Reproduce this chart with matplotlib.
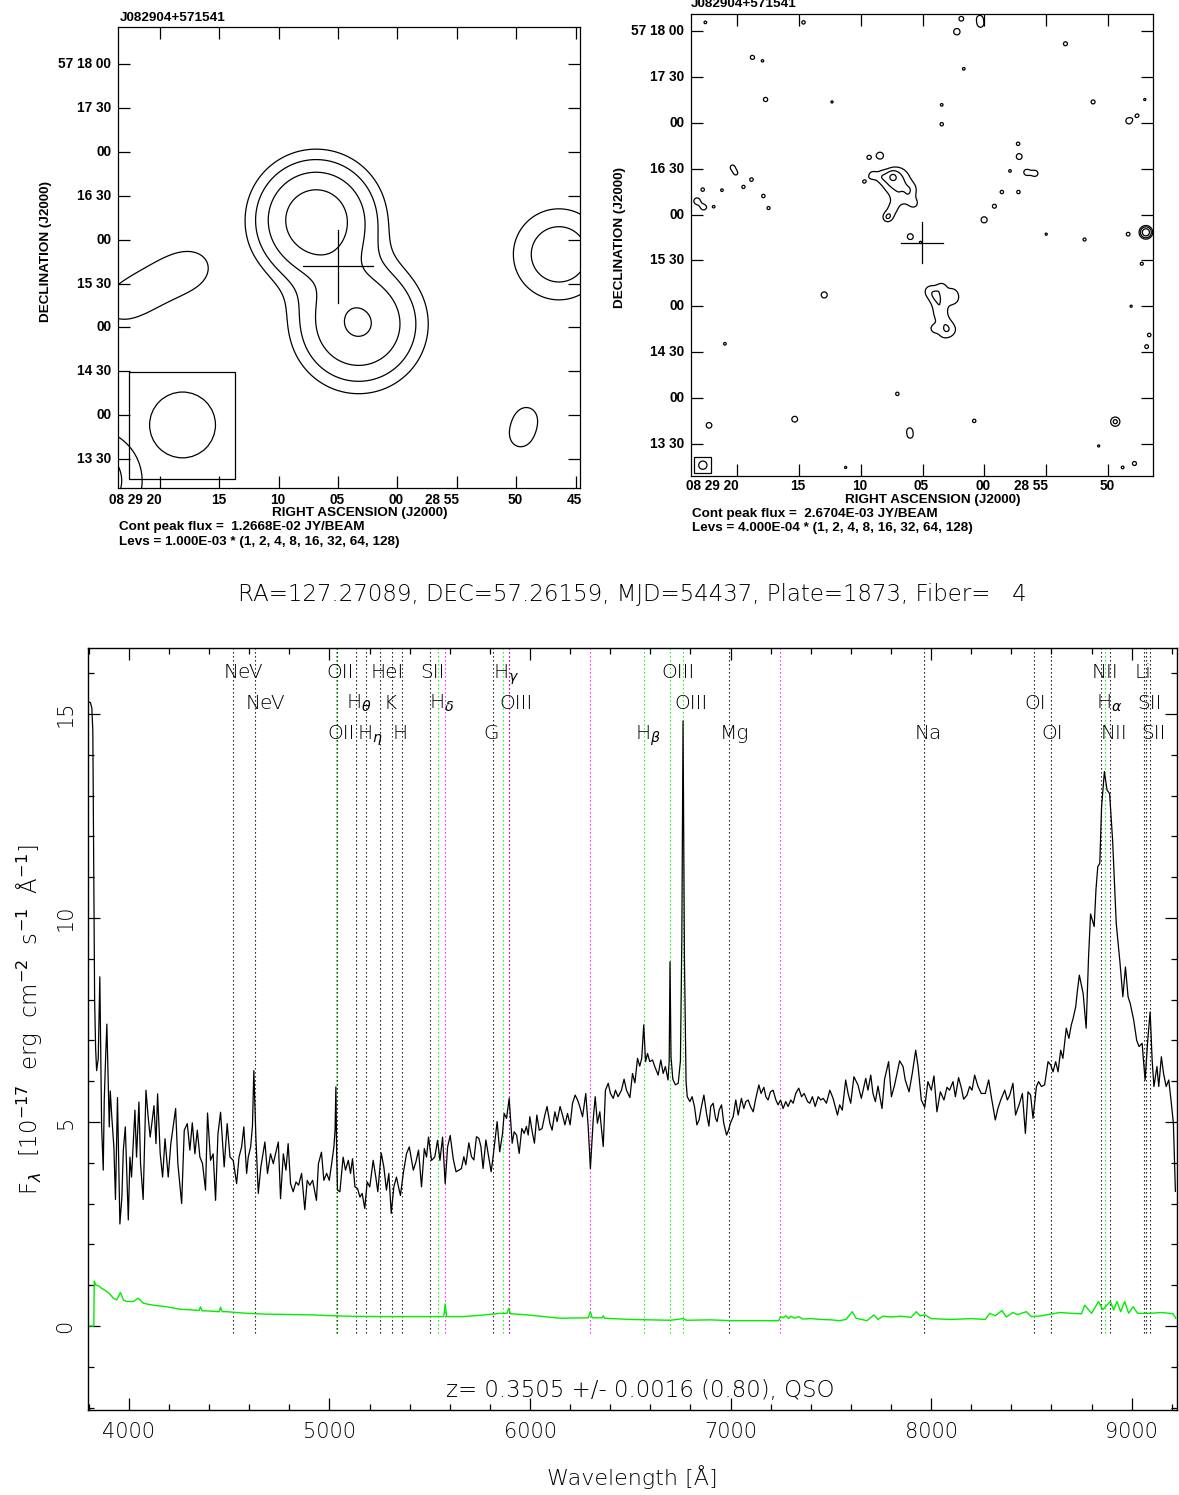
import numpy as np
import matplotlib
matplotlib.use("Agg")
import matplotlib.pyplot as plt
from matplotlib.patches import Rectangle, Ellipse

# ======================= DATA =======================
RA_DEG, DEC_DEG = 127.27089, 57.26159
TITLE_SPEC = "RA=127.27089, DEC=57.26159, MJD=54437, Plate=1873, Fiber=   4"
Z_TEXT = "z= 0.3505 +/- 0.0016 (0.80), QSO"
SRC_NAME = "J082904+571541"

# --- radio panels: RA seconds (relative to 08h29m00s) and Dec arcsec (relative to +57 15 00)
RA_TICKS_L = [20, 15, 10, 5, 0, -5, -10, -15]
RA_LABELS_L = ["08 29 20", "15", "10", "05", "00", "28 55", "50", "45"]
RA_TICKS_R = [20, 15, 10, 5, 0, -5, -10]
RA_LABELS_R = ["08 29 20", "15", "10", "05", "00", "28 55", "50"]
DEC_TICKS = [180, 150, 120, 90, 60, 30, 0, -30, -60, -90]
DEC_LABELS = ["57 18 00", "17 30", "00", "16 30", "00", "15 30", "00", "14 30", "00", "13 30"]

# left map (low resolution) source components: RA s, Dec ", peak mJy/beam, sigma "
L_RA = [6.85, 3.27, 5.10, 24.0, 22.5, 21.0, 19.5, 18.0, 16.6, -13.6, -10.91, -10.32, 25.89]
L_DEC = [73.5, 2.2, 37.0, 13.0, 19.0, 26.0, 33.0, 39.0, 42.0, 50.0, -60.3, -76.1, -104.8]
L_AMP = [12.67, 8.45, 1.0, 0.65, 0.65, 0.65, 0.65, 0.65, 0.65, 3.0, 1.05, 1.05, 3.0]
L_SIG = [21.5, 23, 20, 14, 14, 14, 14, 14, 14, 21, 10, 10, 24]
L_LEV_BASE = 1.0  # mJy
L_PEAK_TXT = "Cont peak flux =  1.2668E-02 JY/BEAM"
L_LEV_TXT = "Levs = 1.000E-03 * (1, 2, 4, 8, 16, 32, 64, 128)"

# right map (high resolution): extended components (RA s, Dec ", mJy/beam, sigma ")
R_RA = [7.40, 7.13, 8.30, 5.95, 6.05, 7.00, 7.35, 7.65,
        4.45, 3.85, 3.85, 2.65, 2.55, 3.55, 3.60, 3.20, 2.70, 3.30]
R_DEC = [84.7, 82.0, 85.0, 76.5, 70.0, 70.5, 64.5, 60.0,
         10.0, 8.5, 4.0, 8.5, 4.5, -1.0, -6.0, -11.0, -15.5, -17.5]
R_AMP = [1.0, 1.05, 0.45, 0.45, 0.45, 0.42, 0.45, 0.42,
         0.42, 0.42, 0.42, 0.42, 0.42, 0.42, 0.42, 0.42, 0.42, 0.42]
R_SIG = [2.3, 6.5, 3.0, 3.5, 3.5, 3.5, 3.0, 3.0,
         3.8, 3.8, 3.8, 3.8, 3.8, 3.8, 3.8, 3.8, 3.8, 3.8]
# right map: compact spots (beam-sized)
P_RA = [22.52, 14.60, 1.87, 0.38, 0.32, 2.23, -6.53, 18.73, 17.90, 1.67, 17.66, 12.30, 3.45,
        -8.76, -12.93, 3.45, -11.65, -12.33, -2.71, 8.43, 9.32, -2.80, 20.34, 20.05, 18.79,
        9.05, 9.71, -2.06, -3.40, -4.08, 22.73, 21.18, 19.45, 17.84, 17.42, 23.20, 22.67,
        21.83, -1.40, -2.74, 5.69, -0.80, 0.03, 5.99, 5.15, -4.98, -8.07, -11.59, -13.02,
        -12.69, 12.93, -11.83, -13.29, -13.08, 20.94, 7.03, 15.31, 22.22, 0.83, 6.04, 5.99,
        -10.55, -9.21, 11.20, -11.14, -12.10, 7.85, 4.06, 3.44]
P_DEC = [185.9, 185.9, 188.3, 188.7, 184.5, 179.8, 171.9, 163.0, 160.7, 155.5, 135.4, 133.8, 131.9,
         133.8, 135.4, 119.2, 121.4, 124.9, 106.4, 98.7, 97.5, 98.0, 91.2, 87.0, 83.0,
         85.8, 81.6, 88.6, 87.7, 87.0, 76.4, 76.0, 78.1, 72.2, 64.3, 68.9, 64.8,
         65.2, 74.8, 74.8, 67.1, 65.5, 56.6, 45.6, 41.8, 47.2, 43.7, 47.2, 48.4,
         27.8, 7.4, 0.0, -18.8, -26.5, -24.6, -57.4, -74.0, -78.0, -75.1, -81.0, -85.0,
         -75.6, -91.5, -105.6, -105.6, -103.0, 58.0, -14.6, 12.7]
P_AMP = [0.43, 0.45, 0.50, 0.52, 0.52, 0.60, 0.47, 0.47, 0.42, 0.43, 0.48, 0.42, 0.43,
         0.47, 0.42, 0.45, 0.58, 0.44, 0.45, 0.62, 0.47, 0.56, 0.45, 0.42, 0.45,
         0.55, 0.43, 0.43, 0.55, 0.55, 0.45, 0.43, 0.44, 0.45, 0.44, 0.58, 0.52,
         0.42, 0.45, 0.45, 0.42, 0.47, 0.58, 0.56, 0.42, 0.42, 0.44, 0.46, 2.67,
         0.44, 0.58, 0.42, 0.45, 0.46, 0.43, 0.45, 0.56, 0.55, 0.45, 0.44, 0.45,
         0.95, 0.42, 0.42, 0.43, 0.47, 0.55, 0.5, 0.45]
P_SIG = 2.29
R_LEV_BASE = 0.4
R_PEAK_TXT = "Cont peak flux =  2.6704E-03 JY/BEAM"
R_LEV_TXT = "Levs = 4.000E-04 * (1, 2, 4, 8, 16, 32, 64, 128)"
LEV_MULT = [1, 2, 4, 8, 16, 32, 64, 128]

# --- spectrum (observed wavelength in Angstrom, flux in 1e-17 erg/cm2/s/A)
WAVE = [3800, 3808, 3815, 3820, 3824, 3829, 3834, 3839, 3847, 3855, 3864, 3872, 3877, 3884, 3890,
        3902, 3907, 3915, 3925, 3933, 3943, 3955, 3965, 3972, 3982, 3997, 4005, 4013, 4030, 4038,
        4050, 4058, 4071, 4085, 4096, 4106, 4125, 4135, 4143, 4156, 4168, 4180, 4196, 4209, 4233,
        4244, 4263, 4276, 4291, 4304, 4316, 4329, 4341, 4354, 4367, 4382, 4392, 4407, 4420, 4432,
        4444, 4457, 4475, 4490, 4504, 4520, 4537, 4549, 4562, 4573, 4587, 4595, 4607, 4616, 4623,
        4633, 4645, 4658, 4678, 4691, 4706, 4720, 4731, 4745, 4756, 4770, 4783, 4794, 4806, 4819,
        4833, 4846, 4861, 4877, 4889, 4902, 4916, 4935, 4945, 4960, 4972, 4986, 4999, 5011, 5022,
        5028, 5032, 5036, 5040, 5052, 5068, 5080, 5094, 5105, 5115, 5127, 5140, 5152, 5163, 5176,
        5188, 5201, 5218, 5231, 5241, 5258, 5271, 5284, 5296, 5308, 5321, 5334, 5346, 5354, 5368,
        5384, 5398, 5418, 5431, 5444, 5459, 5473, 5484, 5494, 5509, 5525, 5539, 5551, 5564, 5577,
        5589, 5602, 5617, 5631, 5646, 5658, 5670, 5680, 5695, 5708, 5720, 5733, 5745, 5755, 5766,
        5780, 5791, 5806, 5816, 5836, 5849, 5863, 5871, 5883, 5896, 5911, 5921, 5933, 5946, 5959,
        5971, 5982, 5991, 5999, 6011, 6022, 6034, 6046, 6060, 6074, 6085, 6099, 6110, 6124, 6135,
        6150, 6162, 6174, 6187, 6200, 6212, 6225, 6237, 6248, 6262, 6278, 6290, 6301, 6315, 6325,
        6336, 6348, 6365, 6376, 6390, 6401, 6415, 6426, 6439, 6456, 6469, 6481, 6498, 6511, 6523,
        6536, 6547, 6557, 6567, 6576, 6586, 6597, 6611, 6622, 6639, 6652, 6664, 6675, 6688, 6694,
        6698, 6703, 6712, 6725, 6739, 6750, 6757, 6763, 6770, 6778, 6784, 6797, 6808, 6820, 6832,
        6843, 6855, 6867, 6880, 6892, 6901, 6913, 6925, 6933, 6943, 6955, 6966, 6980, 6990, 6999,
        7013, 7026, 7038, 7054, 7066, 7076, 7088, 7099, 7113, 7124, 7141, 7152, 7166, 7176, 7187,
        7199, 7212, 7226, 7237, 7249, 7262, 7275, 7287, 7300, 7312, 7325, 7340, 7354, 7367, 7384,
        7395, 7408, 7422, 7437, 7450, 7462, 7478, 7495, 7511, 7533, 7544, 7557, 7574, 7586, 7599,
        7615, 7635, 7652, 7674, 7685, 7699, 7710, 7722, 7735, 7755, 7768, 7788, 7802, 7818, 7843,
        7860, 7871, 7890, 7906, 7923, 7935, 7951, 7968, 7984, 8001, 8014, 8029, 8046, 8064, 8079,
        8092, 8109, 8121, 8137, 8151, 8162, 8179, 8192, 8204, 8217, 8234, 8250, 8270, 8287, 8300,
        8320, 8333, 8347, 8367, 8380, 8392, 8408, 8421, 8441, 8455, 8470, 8483, 8496, 8508, 8525,
        8536, 8550, 8566, 8583, 8596, 8608, 8621, 8633, 8646, 8657, 8674, 8687, 8699, 8708, 8721,
        8729, 8739, 8758, 8773, 8785, 8795, 8804, 8813, 8822, 8831, 8841, 8850, 8859, 8864, 8877,
        8890, 8905, 8923, 8942, 8956, 8969, 8982, 8993, 9010, 9025, 9037, 9052, 9067, 9080, 9092,
        9102, 9111, 9126, 9135, 9148, 9159, 9172, 9185, 9196, 9208, 9218]
FLUX = [15.30, 15.28, 15.15, 14.6, 11.5, 8.0, 6.8, 6.26, 6.55, 8.56, 4.88, 3.82, 5.53, 6.6, 7.40,
        4.88, 5.76, 5.1, 4.39, 3.10, 5.60, 2.50, 3.16, 4.3, 4.88, 2.60, 4.14, 3.65, 5.29, 4.14,
        5.49, 3.98, 3.10, 5.78, 5.12, 4.63, 5.40, 4.47, 5.69, 4.22, 3.65, 4.59, 3.65, 4.47, 5.33,
        3.98, 3.00, 4.80, 4.96, 4.31, 4.98, 4.22, 4.80, 4.14, 3.98, 3.33, 5.22, 4.06, 4.22, 3.08,
        4.71, 5.24, 3.90, 4.96, 4.14, 4.06, 3.49, 4.14, 4.39, 4.88, 3.74, 4.14, 4.39, 4.9, 6.26,
        4.63, 3.25, 3.90, 4.51, 3.74, 4.22, 3.98, 4.22, 4.51, 3.12, 4.22, 3.82, 4.47, 3.49, 3.29,
        3.53, 3.45, 3.74, 2.85, 3.57, 3.45, 3.57, 3.08, 3.98, 4.26, 3.57, 3.74, 3.57, 3.98, 4.39,
        4.8, 5.86, 4.2, 3.33, 3.29, 4.14, 3.82, 4.06, 3.74, 4.10, 3.41, 3.37, 3.16, 3.25, 2.88,
        3.53, 3.41, 4.06, 3.65, 3.29, 4.24, 3.90, 3.33, 3.74, 2.76, 3.41, 3.65, 3.37, 3.20, 3.74,
        4.22, 4.39, 3.82, 4.02, 4.31, 3.41, 4.35, 4.14, 4.63, 4.06, 4.14, 4.55, 4.06, 4.63, 3.49,
        4.39, 4.67, 4.10, 3.78, 3.82, 3.86, 4.15, 3.95, 4.49, 4.15, 4.07, 4.64, 4.60, 4.40, 3.86,
        4.56, 4.23, 3.78, 4.15, 5.01, 4.27, 4.72, 5.21, 5.09, 5.58, 4.48, 4.76, 4.68, 4.23, 4.84,
        4.72, 4.89, 4.68, 5.13, 4.76, 4.48, 5.17, 4.80, 4.84, 5.17, 5.38, 4.97, 4.80, 5.25, 5.01,
        5.38, 5.17, 4.93, 5.21, 4.93, 5.46, 5.66, 5.54, 5.38, 5.13, 5.70, 4.89, 3.86, 5.05, 5.62,
        4.97, 5.25, 4.40, 5.78, 5.95, 5.70, 5.58, 5.78, 5.62, 5.78, 6.05, 5.78, 5.60, 6.19, 5.96,
        6.56, 6.37, 6.56, 7.38, 6.48, 6.68, 6.48, 6.52, 6.36, 6.15, 6.52, 6.19, 6.36, 6.03, 6.5,
        8.93, 6.6, 6.05, 5.91, 5.95, 6.5, 9.5, 14.83, 9.0, 6.0, 5.62, 5.50, 5.62, 5.38, 4.93,
        5.05, 5.38, 5.66, 5.21, 4.90, 5.38, 5.46, 5.09, 5.01, 5.29, 5.42, 4.97, 4.68, 4.80, 4.97,
        5.13, 5.54, 5.17, 5.58, 5.33, 5.50, 5.54, 5.38, 5.25, 5.54, 5.91, 5.70, 5.85, 5.62, 5.54,
        5.74, 5.78, 5.54, 5.42, 5.54, 5.33, 5.50, 5.38, 5.54, 5.46, 5.70, 5.83, 5.62, 5.70, 5.50,
        5.46, 5.62, 5.38, 5.62, 5.54, 5.58, 5.46, 5.78, 5.58, 5.17, 5.42, 5.29, 6.03, 5.7, 5.46,
        6.11, 5.91, 5.58, 6.07, 5.78, 6.15, 5.70, 5.50, 5.88, 5.33, 6.05, 6.48, 5.62, 5.91, 6.50,
        6.36, 6.03, 5.74, 6.19, 6.76, 6.36, 5.54, 5.36, 5.99, 5.78, 6.13, 5.25, 5.74, 5.54, 5.85,
        5.78, 5.99, 5.62, 6.09, 5.83, 5.56, 5.66, 5.87, 5.78, 6.15, 5.87, 5.70, 5.70, 6.03, 5.62,
        5.05, 5.33, 5.54, 5.78, 5.54, 5.66, 5.95, 5.17, 5.46, 5.70, 4.72, 5.74, 5.66, 5.09, 5.87,
        5.99, 5.87, 5.91, 6.48, 6.40, 6.23, 6.48, 6.23, 6.76, 6.56, 7.30, 7.05, 7.38, 7.54, 7.83,
        8.2, 8.60, 8.15, 7.30, 9.05, 10.1, 9.95, 9.79, 10.7, 11.26, 11.34, 12.73, 13.3, 13.59, 13.14,
        13.05, 11.9, 9.87, 8.89, 8.07, 8.80, 8.07, 7.90, 7.50, 7.00, 6.85, 6.93, 6.03, 7.00, 7.70,
        6.52, 5.87, 6.36, 5.87, 6.60, 6.19, 5.87, 6.03, 5.54, 4.97, 3.3]

ERR_WAVE = [3800, 3825, 3827, 3835, 3850, 3865, 3880, 3902, 3922, 3939, 3958, 3972, 3988, 4022, 4047,
            4071, 4088, 4121, 4188, 4254, 4321, 4350, 4357, 4365, 4387, 4450, 4457, 4465, 4487, 4587,
            4686, 4819, 4919, 5019, 5085, 5251, 5418, 5570, 5577, 5584, 5667, 5750, 5850, 5885, 5894,
            5903, 5990, 6150, 6290, 6301, 6310, 6360, 6365, 6372, 6500, 6700, 6765, 6780, 6900, 7000,
            7240, 7249, 7262, 7275, 7290, 7300, 7320, 7340, 7360, 7400, 7450, 7500, 7544, 7575, 7607,
            7625, 7680, 7715, 7735, 7760, 7800, 7850, 7900, 7926, 7945, 7970, 8000, 8100, 8200, 8270,
            8292, 8320, 8353, 8375, 8408, 8430, 8475, 8500, 8550, 8641, 8700, 8750, 8766, 8800, 8835,
            8855, 8894, 8910, 8927, 8945, 8965, 8985, 9007, 9030, 9090, 9150, 9206, 9220]
ERR = [0.0, 0.0, 1.10, 1.0, 0.98, 0.92, 0.88, 0.80, 0.68, 0.64, 0.82, 0.64, 0.60, 0.60, 0.68,
       0.56, 0.54, 0.51, 0.47, 0.41, 0.39, 0.38, 0.47, 0.37, 0.37, 0.35, 0.46, 0.35, 0.35, 0.31,
       0.29, 0.28, 0.27, 0.25, 0.24, 0.23, 0.23, 0.23, 0.54, 0.23, 0.23, 0.26, 0.31, 0.31, 0.43,
       0.30, 0.27, 0.19, 0.20, 0.35, 0.20, 0.20, 0.25, 0.19, 0.16, 0.14, 0.18, 0.14, 0.15, 0.13,
       0.13, 0.23, 0.20, 0.25, 0.18, 0.24, 0.19, 0.23, 0.17, 0.18, 0.16, 0.15, 0.13, 0.16, 0.35,
       0.19, 0.13, 0.27, 0.16, 0.24, 0.22, 0.24, 0.21, 0.35, 0.25, 0.27, 0.18, 0.16, 0.18, 0.16,
       0.31, 0.25, 0.38, 0.22, 0.33, 0.28, 0.35, 0.23, 0.25, 0.33, 0.31, 0.30, 0.51, 0.31, 0.60,
       0.40, 0.60, 0.39, 0.60, 0.35, 0.60, 0.31, 0.47, 0.31, 0.31, 0.33, 0.30, 0.19]

# line markers (observed wavelengths), label, label row (0 = top)
LINE_WAVE = [4520, 4628, 5033, 5037, 5130, 5181, 5252, 5314, 5361, 5500, 5541, 5815, 5863, 5894,
             6567, 6699, 6764, 6991, 7962, 8511, 8597, 8846, 8866, 8893, 9059, 9073, 9092]
LINE_NAME = ["NeV", "NeV", "OII", "OII", r"H$_\theta$", r"H$_\eta$", "HeI", "K", "H", "SII",
             r"H$_\delta$", "G", r"H$_\gamma$", "OIII", r"H$_\beta$", "OIII", "OIII", "Mg", "Na",
             "OI", "OI", "NII", r"H$_\alpha$", "NII", "Li", "SII", "SII"]
LINE_ROW = [0, 1, 0, 2, 1, 2, 0, 1, 2, 0, 1, 2, 0, 1, 2, 0, 1, 2, 2, 1, 2, 0, 1, 2, 0, 1, 2]
LINE_KIND = ["a", "a", "e", "a", "a", "a", "a", "a", "a", "a", "e", "a", "e", "a",
             "e", "e", "e", "a", "a", "a", "a", "a", "e", "a", "a", "a", "a"]
SKY_WAVE = [5577, 5893, 6300, 7246]

# ======================= STYLE / LAYOUT =======================
W, H = 1179, 1495
plt.rcParams["font.family"] = ["DejaVu Sans"]
plt.rcParams["mathtext.fontset"] = "dejavusans"
fig = plt.figure(figsize=(W / 100, H / 100), dpi=100)
BOLD = dict(family=["Liberation Sans", "DejaVu Sans"], fontweight="bold")
AIPS_FS = 9.7
TICK_FS = 9.8
RA_ARCSEC = 15 * np.cos(np.deg2rad(DEC_DEG))

src_ra = (RA_DEG / 15 - 8 - 29 / 60) * 3600
src_dec = (DEC_DEG - 57 - 15 / 60) * 3600


def ax_rect(l, t, r, b):
    return [l / W, 1 - b / H, (r - l) / W, (b - t) / H]


def gauss_field(X, Y, ras, decs, amps, sigs):
    Z = np.zeros_like(X)
    for r, d, a, s in zip(ras, decs, amps, sigs):
        Z += a * np.exp(-(((X - r) * RA_ARCSEC) ** 2 + (Y - d) ** 2) / (2 * s * s))
    return Z


def aips_axes(ax, ra_ticks, ra_labels, ra_dy):
    ax.set_xticks(ra_ticks)
    ax.set_yticks(DEC_TICKS)
    ax.tick_params(direction="in", length=8.6, width=0.9, top=True, right=True,
                   labelbottom=False, labelleft=False)
    for sp in ax.spines.values():
        sp.set_linewidth(0.9)
    for t, lab in zip(ra_ticks, ra_labels):
        if " " in lab:
            ha, dx = "right", 2
        else:
            ha, dx = "center", -1
        ax.annotate(lab, xy=(t, 0), xycoords=("data", "axes fraction"), xytext=(dx, ra_dy),
                    textcoords="offset pixels", ha=ha, va="center", fontsize=TICK_FS, **BOLD)
    for t, lab in zip(DEC_TICKS, DEC_LABELS):
        ax.annotate(lab, xy=(0, t), xycoords=("axes fraction", "data"), xytext=(-7, 0),
                    textcoords="offset pixels", ha="right", va="center", fontsize=TICK_FS, **BOLD)


# ---------------- left radio panel ----------------
axL = fig.add_axes(ax_rect(118.3, 26.8, 580.2, 488.2))
gx = np.linspace(25.0, -17.0, 500)
gy = np.linspace(-115, 212, 500)
XL, YL = np.meshgrid(gx, gy)
ZL = gauss_field(XL, YL, L_RA, L_DEC, L_AMP, L_SIG)
axL.contour(XL, YL, ZL, levels=[L_LEV_BASE * m for m in LEV_MULT], colors="black", linewidths=0.9)
axL.set_xlim(23.51, -15.39)
axL.set_ylim(-109.97, 205.65)
aips_axes(axL, RA_TICKS_L, RA_LABELS_L, -12)
armL_ra, armL_dec = 24.0 / RA_ARCSEC, 25.0
axL.plot([src_ra - armL_ra, src_ra + armL_ra], [src_dec, src_dec], color="black", lw=0.9)
axL.plot([src_ra, src_ra], [src_dec - armL_dec, src_dec + armL_dec], color="black", lw=0.9)
axL.add_patch(Rectangle((13.65, -103.4), 22.61 - 13.65, 72.9, fill=False, ec="black", lw=0.9))
axL.add_patch(Ellipse((18.10, -66.7), 45.0 / RA_ARCSEC, 45.0, fill=False, ec="black", lw=0.9))

fig.text(119.4 / W, 1 - 18 / H, SRC_NAME, ha="left", va="center", fontsize=AIPS_FS, **BOLD)
fig.text(46 / W, 1 - 251 / H, "DECLINATION (J2000)", rotation=90, ha="center", va="center",
         fontsize=AIPS_FS, **BOLD)
fig.text(360 / W, 1 - 513 / H, "RIGHT ASCENSION (J2000)", ha="center", va="center",
         fontsize=AIPS_FS, **BOLD)
fig.text(119.4 / W, 1 - 527 / H, L_PEAK_TXT, ha="left", va="center", fontsize=AIPS_FS, **BOLD)
fig.text(119.4 / W, 1 - 542 / H, L_LEV_TXT, ha="left", va="center", fontsize=AIPS_FS, **BOLD)

# ---------------- right radio panel ----------------
axR = fig.add_axes(ax_rect(691.2, 14.3, 1153.2, 475.7))
gx = np.linspace(24.5, -14.5, 900)
gy = np.linspace(-115, 196, 900)
XR, YR = np.meshgrid(gx, gy)
ZR = gauss_field(XR, YR, R_RA, R_DEC, R_AMP, R_SIG)
ZR += gauss_field(XR, YR, P_RA, P_DEC, P_AMP, [P_SIG] * len(P_RA))
axR.contour(XR, YR, ZR, levels=[R_LEV_BASE * m for m in LEV_MULT], colors="black", linewidths=0.9)
axR.set_xlim(23.66, -13.61)
axR.set_ylim(-111.0, 191.2)
aips_axes(axR, RA_TICKS_R, RA_LABELS_R, -10)
armR_ra, armR_dec = 13.7 / RA_ARCSEC, 13.7
axR.plot([src_ra - armR_ra, src_ra + armR_ra], [src_dec, src_dec], color="black", lw=0.9)
axR.plot([src_ra, src_ra], [src_dec - armR_dec, src_dec + armR_dec], color="black", lw=0.9)
axR.add_patch(Rectangle((22.07, -109.5), 23.41 - 22.07, 11.0, fill=False, ec="black", lw=0.9))
axR.add_patch(Ellipse((22.72, -104.1), 5.4 / RA_ARCSEC, 5.4, fill=False, ec="black", lw=0.9))

fig.text(691.2 / W, 1 - 4 / H, SRC_NAME, ha="left", va="center", fontsize=AIPS_FS, **BOLD)
fig.text(620 / W, 1 - 238 / H, "DECLINATION (J2000)", rotation=90, ha="center", va="center",
         fontsize=AIPS_FS, **BOLD)
fig.text(932.7 / W, 1 - 500 / H, "RIGHT ASCENSION (J2000)", ha="center", va="center",
         fontsize=AIPS_FS, **BOLD)
fig.text(691.6 / W, 1 - 514.5 / H, R_PEAK_TXT, ha="left", va="center", fontsize=AIPS_FS, **BOLD)
fig.text(691.6 / W, 1 - 528.5 / H, R_LEV_TXT, ha="left", va="center", fontsize=AIPS_FS, **BOLD)

# ---------------- spectrum ----------------
axS = fig.add_axes(ax_rect(88, 648, 1177, 1410))
axS.set_xlim(3796, 9226)
axS.set_ylim(-2.06, 16.62)
TXT = "black"
LFS = 14.5
WGT = "light"

line_top, line_bot = 16.62, -0.17
dots = (0, (1.2, 2.4))
row_y = [15.875, 15.12, 14.38]
for w, name, row, kind in zip(LINE_WAVE, LINE_NAME, LINE_ROW, LINE_KIND):
    col = "#00ee00" if kind == "e" else "black"
    axS.plot([w, w], [line_bot, line_top], color=col, lw=0.8, linestyle=dots, zorder=1)
    axS.text(w - 46, row_y[row], name, ha="left", va="baseline", fontsize=LFS, color=TXT,
             fontweight=WGT, zorder=4)
for w in SKY_WAVE:
    axS.plot([w, w], [line_bot, line_top], color="#ff00ff", lw=0.8, linestyle=dots, zorder=1)

axS.plot(ERR_WAVE, ERR, color="#00ee00", lw=1.0, zorder=2)
axS.plot(WAVE, FLUX, color="black", lw=0.9, zorder=3)

axS.set_xticks(np.arange(4000, 9001, 1000))
axS.set_xticks(np.arange(3800, 9201, 200), minor=True)
axS.set_yticks([0, 5, 10, 15])
axS.set_yticks(np.arange(-2, 17, 1), minor=True)
axS.tick_params(which="both", direction="in", top=True, right=True, width=0.9, colors="black",
                labelsize=15, labelcolor=TXT)
axS.tick_params(which="major", length=8.6)
axS.tick_params(which="minor", length=4.3)
axS.tick_params(axis="x", which="major", pad=9)
axS.tick_params(axis="y", which="major", pad=9, labelrotation=90)
for lab in axS.get_yticklabels():
    lab.set_va("center")
for lab in axS.get_xticklabels() + axS.get_yticklabels():
    lab.set_fontweight(WGT)
for sp in axS.spines.values():
    sp.set_linewidth(1.0)

axS.text(0.507, -1.57, Z_TEXT, transform=axS.get_yaxis_transform(), ha="center", va="center",
         fontsize=16.5, color=TXT, fontweight=WGT)
fig.text(632 / W, 1 - 594 / H, TITLE_SPEC, ha="center", va="center", fontsize=16.5, color=TXT,
         fontweight=WGT)
fig.text(632 / W, 1 - 1477 / H, "Wavelength [Å]", ha="center", va="center", fontsize=16,
         color=TXT, fontweight=WGT)
fig.text(30 / W, 1 - 1020 / H,
         r"F$_\lambda$  [10$^{-17}$  erg  cm$^{-2}$  s$^{-1}$  Å$^{-1}$]",
         rotation=90, ha="center", va="center", fontsize=16.5, color=TXT, fontweight=WGT)

fig.savefig("out.png", dpi=100)
